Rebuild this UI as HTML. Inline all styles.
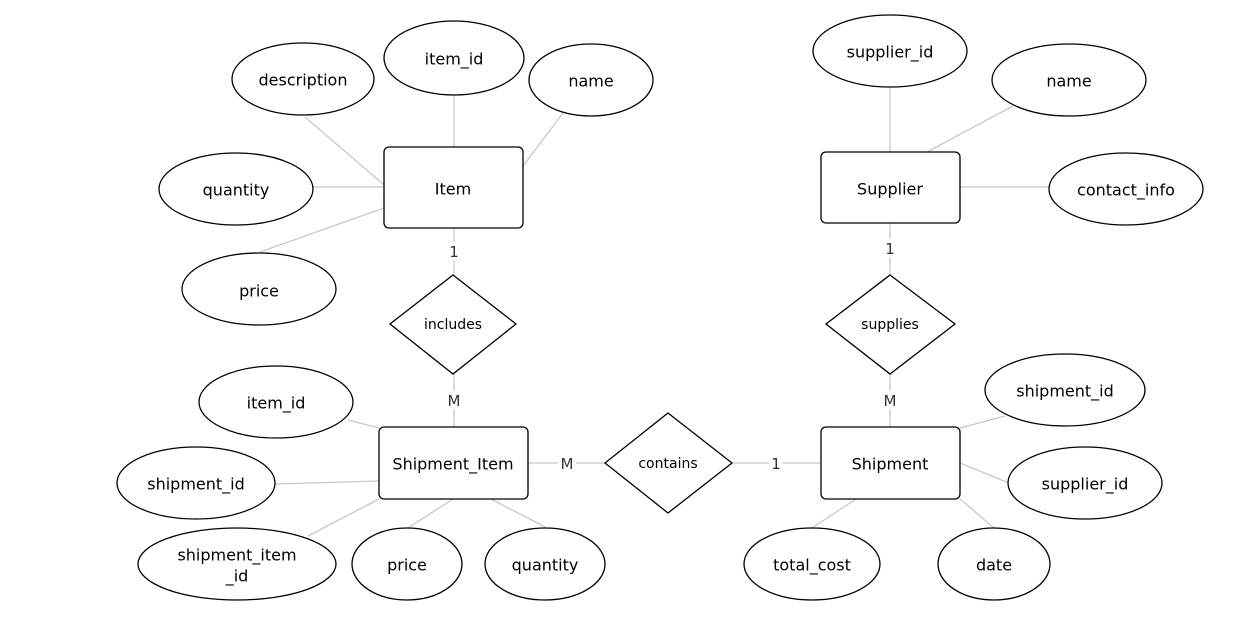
<!DOCTYPE html>
<html><head><meta charset="utf-8"><style>
html,body{margin:0;padding:0;background:#fff;}
svg{display:block;font-family:"DejaVu Sans","Liberation Sans",sans-serif;}
.l{stroke:#c8c8c8;stroke-width:1.3;fill:none;}
.s{fill:#fff;stroke:#000;stroke-width:1.3;}
text{font-size:16px;fill:#000;text-anchor:middle;dominant-baseline:central;}
.d{font-size:14px;}
.c{font-size:15px;fill:#333;}
</style></head><body>
<svg width="1252" height="617" viewBox="0 0 1252 617">
<g class="l">
<line x1="305" y1="117" x2="384" y2="185"/>
<line x1="313" y1="187" x2="384" y2="187"/>
<line x1="260" y1="252" x2="384" y2="208"/>
<line x1="454" y1="95" x2="454" y2="147"/>
<line x1="563" y1="113" x2="523" y2="166"/>
<line x1="890" y1="87" x2="890" y2="152"/>
<line x1="1013" y1="106" x2="927" y2="152"/>
<line x1="960" y1="187" x2="1049" y2="187"/>
<line x1="454" y1="228" x2="454" y2="242"/><line x1="454" y1="260" x2="454" y2="275"/>
<line x1="454" y1="374" x2="454" y2="391"/><line x1="454" y1="409" x2="454" y2="427"/>
<line x1="890" y1="223" x2="890" y2="239"/><line x1="890" y1="257" x2="890" y2="275"/>
<line x1="890" y1="374" x2="890" y2="391"/><line x1="890" y1="409" x2="890" y2="427"/>
<line x1="528" y1="463" x2="558" y2="463"/><line x1="576" y1="463" x2="605" y2="463"/>
<line x1="732" y1="463" x2="769" y2="463"/><line x1="783" y1="463" x2="821" y2="463"/>
<line x1="348" y1="420" x2="379" y2="428"/>
<line x1="275" y1="484" x2="379" y2="481"/>
<line x1="308" y1="536" x2="379" y2="499"/>
<line x1="408" y1="528" x2="453" y2="499"/>
<line x1="545" y1="527" x2="491" y2="499"/>
<line x1="1005" y1="416" x2="960" y2="428"/>
<line x1="1009" y1="483" x2="960" y2="463"/>
<line x1="812" y1="528" x2="856" y2="499"/>
<line x1="994" y1="528" x2="960" y2="499"/>
</g>
<g class="s">
<rect x="384" y="147" width="139" height="81" rx="5"/>
<rect x="821" y="152" width="139" height="71" rx="5"/>
<rect x="379" y="427" width="149" height="72" rx="5"/>
<rect x="821" y="427" width="139" height="72" rx="5"/>
<polygon points="453,275 516,324 453,374 390,324"/>
<polygon points="890,275 955,324 890,374 826,324"/>
<polygon points="668,413 732,463 668,513 605,463"/>
<ellipse cx="303" cy="79" rx="71" ry="36"/>
<ellipse cx="454" cy="58" rx="70" ry="37"/>
<ellipse cx="591" cy="80" rx="62" ry="36"/>
<ellipse cx="236" cy="189" rx="77" ry="36"/>
<ellipse cx="259" cy="289" rx="77" ry="36"/>
<ellipse cx="890" cy="51" rx="77" ry="36"/>
<ellipse cx="1069" cy="80" rx="77" ry="36"/>
<ellipse cx="1126" cy="189" rx="77" ry="36"/>
<ellipse cx="276" cy="402" rx="77" ry="36"/>
<ellipse cx="196" cy="483" rx="79" ry="36"/>
<ellipse cx="237" cy="564" rx="99" ry="36"/>
<ellipse cx="407" cy="564" rx="55" ry="36"/>
<ellipse cx="545" cy="564" rx="60" ry="36"/>
<ellipse cx="1065" cy="390" rx="80" ry="36"/>
<ellipse cx="1085" cy="483" rx="77" ry="36"/>
<ellipse cx="812" cy="564" rx="68" ry="36"/>
<ellipse cx="994" cy="564" rx="56" ry="36"/>
</g>
<text x="453" y="189">Item</text>
<text x="890" y="189">Supplier</text>
<text x="453" y="464">Shipment_Item</text>
<text x="890" y="464">Shipment</text>
<text class="d" x="453" y="325">includes</text>
<text class="d" x="890" y="325">supplies</text>
<text class="d" x="668" y="464">contains</text>
<text class="c" x="454" y="252">1</text>
<text class="c" x="454" y="401">M</text>
<text class="c" x="890" y="249">1</text>
<text class="c" x="890" y="401">M</text>
<text class="c" x="567" y="464">M</text>
<text class="c" x="776" y="464">1</text>
<text x="303" y="80">description</text>
<text x="454" y="59">item_id</text>
<text x="591" y="81">name</text>
<text x="236" y="190">quantity</text>
<text x="259" y="291">price</text>
<text x="890" y="52">supplier_id</text>
<text x="1069" y="81">name</text>
<text x="1126" y="190">contact_info</text>
<text x="276" y="403">item_id</text>
<text x="196" y="484">shipment_id</text>
<text x="237" y="555">shipment_item</text>
<text x="237" y="576">_id</text>
<text x="407" y="565">price</text>
<text x="545" y="565">quantity</text>
<text x="1065" y="391">shipment_id</text>
<text x="1085" y="484">supplier_id</text>
<text x="812" y="565">total_cost</text>
<text x="994" y="565">date</text>
</svg>
</body></html>
